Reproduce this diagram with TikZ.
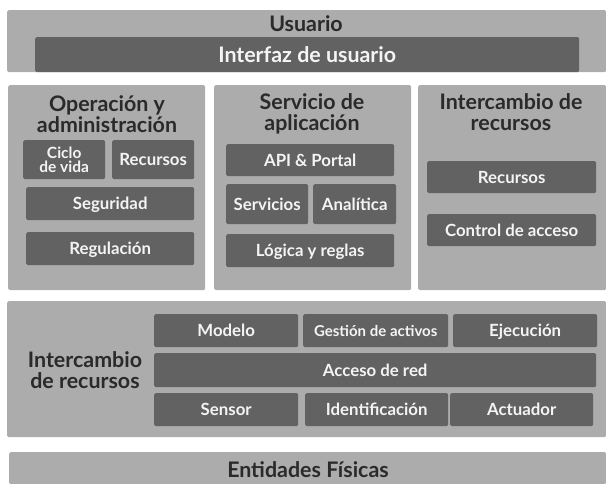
\documentclass[tikz,border=0pt]{standalone}
\usepackage{fontspec}
\setmainfont{Lato}
\definecolor{panelgray}{HTML}{ADACAC}
\definecolor{boxgray}{HTML}{626262}
\definecolor{titletext}{HTML}{2A2A2A}
\definecolor{boxtext}{HTML}{F4F4F4}
\tikzset{
  panel/.style={fill=panelgray, draw=none, rounded corners=1.5pt, anchor=north west, inner sep=0pt},
  box/.style={fill=boxgray, draw=none, rounded corners=1.5pt, anchor=north west, inner sep=0pt,
    text=boxtext, align=center, font=\bfseries\fontsize{16.8}{14}\selectfont,
    text height=12pt, text depth=0pt},
  twolinebox/.style={box, font=\bfseries\fontsize{15.5}{14.5}\selectfont, text height=25.7pt},
  smallbox/.style={box, font=\bfseries\fontsize{15}{15}\selectfont, text height=10.8pt},
  bigbox/.style={box, font=\bfseries\fontsize{21.4}{21}\selectfont, text height=15.4pt},
  ptitle/.style={text=titletext, align=center, inner sep=0pt,
    font=\bfseries\fontsize{21.4}{21}\selectfont, text height=15.4pt, text depth=0pt},
  ptitletwo/.style={ptitle, text height=36.4pt},
}
\begin{document}
\begin{tikzpicture}[x=1pt,y=-1pt]
\useasboundingbox (0,0) rectangle (606,484);
% Usuario
\node[panel, minimum width=599pt, minimum height=62pt] (usuario) at (7,10) {};
\node[ptitle] (usuarioT) at (306,23.5) {Usuario};
\node[bigbox, minimum width=544pt, minimum height=35pt] (interfaz) at (35,37) {Interfaz de usuario};
% Left panel
\node[panel, minimum width=197pt, minimum height=205pt] (opadm) at (8,85) {};
\node[ptitletwo] (opadmT) at (107,114.5) {Operación y\\administración};
\node[twolinebox, minimum width=82pt, minimum height=39pt] (ciclo) at (23,140) {Ciclo\\de vida};
\node[box, minimum width=82pt, minimum height=39pt] (recL) at (112,140) {Recursos};
\node[box, minimum width=168pt, minimum height=33pt] (seg) at (26,187) {Seguridad};
\node[box, minimum width=168pt, minimum height=33pt] (reg) at (26,232) {Regulación};
% Middle panel
\node[panel, minimum width=197pt, minimum height=205pt] (servapp) at (214,85) {};
\node[ptitletwo] (servappT) at (312,112) {Servicio de\\aplicación};
\node[box, minimum width=168pt, minimum height=32pt] (api) at (226,144) {API \& Portal};
\node[box, minimum width=82pt, minimum height=40pt] (serv) at (226,184) {Servicios};
\node[box, minimum width=83pt, minimum height=40pt] (anal) at (313,184) {Analítica};
\node[box, minimum width=168pt, minimum height=33pt] (logica) at (226,234) {Lógica y reglas};
% Right panel
\node[panel, minimum width=188pt, minimum height=205pt] (inter1) at (418,85) {};
\node[ptitletwo] (inter1T) at (511,112) {Intercambio de\\recursos};
\node[box, minimum width=169pt, minimum height=32pt] (recR) at (427,161) {Recursos};
\node[box, minimum width=169pt, minimum height=32pt] (control) at (427,214) {Control de acceso};
% Bottom panel
\node[panel, minimum width=599pt, minimum height=136pt] (inter2) at (7,301) {};
\node[ptitletwo] (inter2T) at (85,370.5) {Intercambio\\de recursos};
\node[box, minimum width=144pt, minimum height=33pt] (modelo) at (154,314) {Modelo};
\node[smallbox, minimum width=145pt, minimum height=33pt] (gestion) at (303,314) {Gestión de activos};
\node[box, minimum width=144pt, minimum height=33pt] (ejec) at (453,314) {Ejecución};
\node[box, minimum width=442pt, minimum height=34pt] (acceso) at (154,353) {Acceso de red};
\node[box, minimum width=144pt, minimum height=33pt] (sensor) at (154,393) {Sensor};
\node[box, minimum width=143pt, minimum height=33pt] (ident) at (305,393) {Identificación};
\node[box, minimum width=143pt, minimum height=33pt] (actu) at (450,393) {Actuador};
% Entidades
\node[panel, minimum width=597pt, minimum height=32pt] (entidades) at (9,452) {};
\node[ptitle] (entidadesT) at (308,469.5) {Entidades Físicas};
\end{tikzpicture}
\end{document}
